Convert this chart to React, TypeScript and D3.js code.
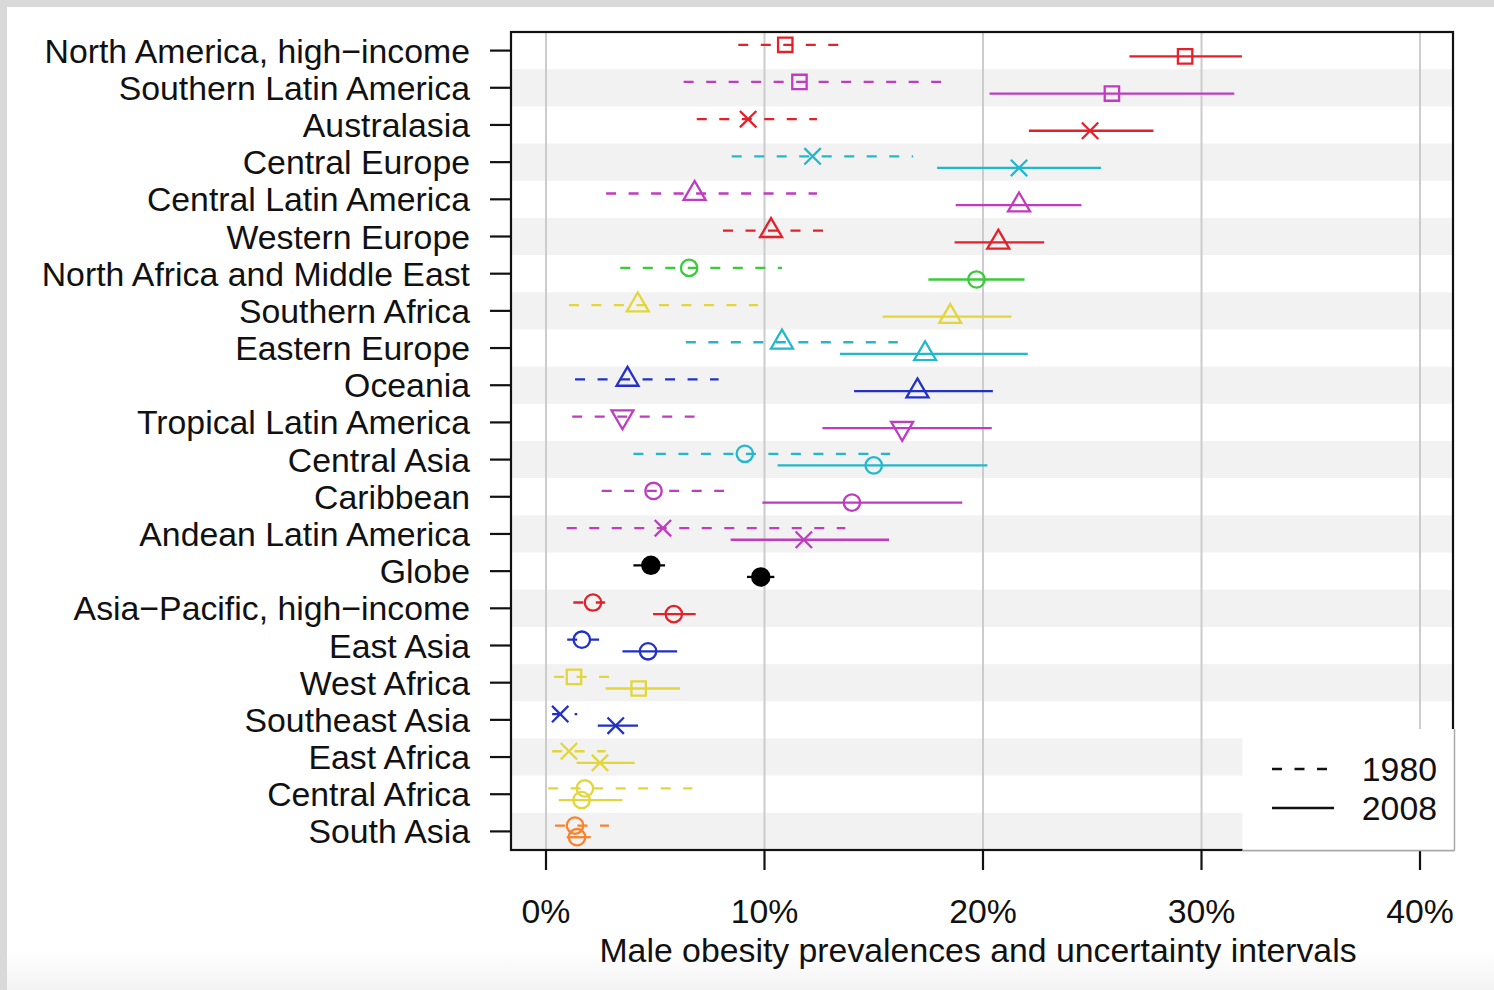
import React from "react";
import * as d3 from "d3";

// Regions, top to bottom
const regions = [
  "North America, high\u2212income",
  "Southern Latin America",
  "Australasia",
  "Central Europe",
  "Central Latin America",
  "Western Europe",
  "North Africa and Middle East",
  "Southern Africa",
  "Eastern Europe",
  "Oceania",
  "Tropical Latin America",
  "Central Asia",
  "Caribbean",
  "Andean Latin America",
  "Globe",
  "Asia\u2212Pacific, high\u2212income",
  "East Asia",
  "West Africa",
  "Southeast Asia",
  "East Africa",
  "Central Africa",
  "South Asia",
];

// 1980 estimates and uncertainty intervals (%)
const est1980 = [10.95, 11.6, 9.25, 12.2, 6.8, 10.3, 6.55, 4.2, 10.8, 3.73, 3.5, 9.1, 4.92, 5.35, 4.8, 2.15, 1.64, 1.28, 0.65, 1.05, 1.78, 1.33];
const lo1980 = [8.8, 6.3, 6.9, 8.5, 2.75, 8.1, 3.4, 1.05, 6.4, 1.33, 1.2, 4.0, 2.55, 0.95, 4.0, 1.25, 0.97, 0.37, 0.28, 0.28, 0.1, 0.41];
const hi1980 = [13.4, 18.1, 12.4, 16.8, 12.4, 12.7, 10.8, 9.7, 16.1, 7.9, 6.8, 15.75, 8.15, 13.7, 5.45, 2.7, 2.43, 2.9, 1.43, 2.73, 6.7, 2.88];

// 2008 estimates and uncertainty intervals (%)
const est2008 = [29.25, 25.9, 24.9, 21.65, 21.65, 20.7, 19.7, 18.5, 17.35, 17.0, 16.3, 15.0, 14.0, 11.8, 9.83, 5.85, 4.67, 4.24, 3.19, 2.47, 1.63, 1.42];
const lo2008 = [26.7, 20.3, 22.1, 17.9, 18.75, 18.7, 17.5, 15.4, 13.45, 14.1, 12.65, 10.6, 9.9, 8.45, 9.2, 4.9, 3.5, 2.73, 2.37, 1.4, 0.58, 0.95];
const hi2008 = [31.85, 31.5, 27.8, 25.4, 24.5, 22.8, 21.9, 21.3, 22.05, 20.45, 20.4, 20.2, 19.05, 15.7, 10.45, 6.85, 6.0, 6.13, 4.21, 4.06, 3.5, 2.05];

// Super-region colour and marker per region
const regionColor = [
  "red", "magenta", "red", "cyan", "magenta", "red", "green", "yellow", "cyan", "blue", "magenta",
  "cyan", "magenta", "magenta", "black", "red", "blue", "yellow", "blue", "yellow", "yellow", "orange",
];
const regionShape = [
  "square", "square", "x", "x", "triangle", "triangle", "circle", "triangle", "triangle", "triangle", "triangleDown",
  "circle", "circle", "x", "dot", "circle", "circle", "square", "x", "x", "circle", "circle",
];

const tickValues = [0, 10, 20, 30, 40];
const legendYears = ["1980", "2008"];

const palette: Record<string, string> = {
  red: "#e4202a",
  magenta: "#bf3bc0",
  cyan: "#22b8cc",
  green: "#3acb3a",
  yellow: "#e2d63a",
  blue: "#2230c6",
  orange: "#f7832e",
  black: "#000000",
};

const W = 1494;
const H = 990;
const plot = { left: 511, right: 1453, top: 32, bottom: 850 };
const FONT = "'Liberation Sans', Arial, Helvetica, sans-serif";
const FS = 33.8;

const x = d3
  .scaleLinear()
  .domain([0, 40])
  .range([546, 1420]);

const y = d3
  .scaleBand<number>()
  .domain(d3.range(regions.length))
  .range([plot.top, plot.bottom])
  .paddingInner(0)
  .paddingOuter(0);

const rowCenter = (i: number) => (y(i) as number) + y.bandwidth() / 2;

function markerPath(shape: string, cx: number, cy: number): string {
  const p = d3.path();
  if (shape === "square") {
    const h = 7.2;
    p.rect(cx - h, cy - h, 2 * h, 2 * h);
  } else if (shape === "circle") {
    p.moveTo(cx + 8.2, cy);
    p.arc(cx, cy, 8.2, 0, Math.PI * 2);
    p.closePath();
  } else if (shape === "dot") {
    p.moveTo(cx + 8.6, cy);
    p.arc(cx, cy, 8.6, 0, Math.PI * 2);
    p.closePath();
  } else if (shape === "triangle") {
    p.moveTo(cx, cy - 12.6);
    p.lineTo(cx + 11, cy + 6.3);
    p.lineTo(cx - 11, cy + 6.3);
    p.closePath();
  } else if (shape === "triangleDown") {
    p.moveTo(cx, cy + 12.6);
    p.lineTo(cx + 11, cy - 6.3);
    p.lineTo(cx - 11, cy - 6.3);
    p.closePath();
  } else if (shape === "x") {
    const h = 8.2;
    p.moveTo(cx - h, cy - h);
    p.lineTo(cx + h, cy + h);
    p.moveTo(cx - h, cy + h);
    p.lineTo(cx + h, cy - h);
  }
  return p.toString();
}

const DASH = "10,12.5";
const OFF1980 = -5.8;
const OFF2008 = 5.8;
const LW = 2.3;

export default function App() {
  const rows = regions.map((name, i) => ({ name, i, cy: rowCenter(i) }));
  const legendX = 1242.5;
  const legendY = 729;

  return (
    <svg
      width={W}
      height={H}
      viewBox={`0 0 ${W} ${H}`}
      style={{ position: "absolute", left: 0, top: 0, display: "block" }}
      fontFamily={FONT}
    >
      <defs>
        <linearGradient id="pageFoot" x1="0" y1="0" x2="0" y2="1">
          <stop offset="0" stopColor="#ffffff" />
          <stop offset="1" stopColor="#f3f3f3" />
        </linearGradient>
      </defs>

      {/* page */}
      <rect x={0} y={0} width={W} height={H} fill="#d9d9d9" />
      <rect x={7} y={7} width={W - 7} height={H - 7} fill="#ffffff" />
      <rect x={7} y={950} width={W - 7} height={40} fill="url(#pageFoot)" />

      {/* alternating row bands */}
      {rows
        .filter((r) => r.i % 2 === 1)
        .map((r) => (
          <rect
            key={`band-${r.i}`}
            x={plot.left}
            y={y(r.i) as number}
            width={plot.right - plot.left}
            height={y.bandwidth()}
            fill="#f2f2f2"
          />
        ))}

      {/* vertical grid */}
      {tickValues.map((t) => (
        <line
          key={`grid-${t}`}
          x1={x(t)}
          x2={x(t)}
          y1={plot.top}
          y2={plot.bottom}
          stroke="#cccccc"
          strokeWidth={2}
        />
      ))}

      {/* intervals and estimates */}
      {rows.map((r) => {
        const col = palette[regionColor[r.i]];
        const shape = regionShape[r.i];
        const y80 = r.cy + OFF1980;
        const y08 = r.cy + OFF2008;
        const filled = shape === "dot";
        return (
          <g key={`row-${r.i}`}>
            <line
              x1={x(lo1980[r.i])}
              x2={x(hi1980[r.i])}
              y1={y80}
              y2={y80}
              stroke={col}
              strokeWidth={LW}
              strokeDasharray={DASH}
            />
            <path
              d={markerPath(shape, x(est1980[r.i]), y80)}
              fill={filled ? col : "none"}
              stroke={col}
              strokeWidth={LW}
            />
            <line
              x1={x(lo2008[r.i])}
              x2={x(hi2008[r.i])}
              y1={y08}
              y2={y08}
              stroke={col}
              strokeWidth={LW}
            />
            <path
              d={markerPath(shape, x(est2008[r.i]), y08)}
              fill={filled ? col : "none"}
              stroke={col}
              strokeWidth={LW}
            />
          </g>
        );
      })}

      {/* plot frame */}
      <rect
        x={plot.left}
        y={plot.top}
        width={plot.right - plot.left}
        height={plot.bottom - plot.top}
        fill="none"
        stroke="#111111"
        strokeWidth={2.2}
      />

      {/* left axis */}
      {rows.map((r) => (
        <g key={`ylab-${r.i}`}>
          <line x1={490} x2={plot.left} y1={r.cy} y2={r.cy} stroke="#111111" strokeWidth={2.2} />
          <text x={470} y={r.cy + 12} textAnchor="end" fontSize={FS} fill="#111111">
            {r.name}
          </text>
        </g>
      ))}

      {/* bottom axis */}
      {tickValues.map((t) => (
        <g key={`xtick-${t}`}>
          <line x1={x(t)} x2={x(t)} y1={plot.bottom} y2={870} stroke="#111111" strokeWidth={2.2} />
          <text x={x(t)} y={923} textAnchor="middle" fontSize={FS} fill="#111111">
            {`${t}%`}
          </text>
        </g>
      ))}
      <text x={978} y={962} textAnchor="middle" fontSize={FS} fill="#111111">
        Male obesity prevalences and uncertainty intervals
      </text>

      {/* legend */}
      <rect x={legendX} y={legendY} width={1455 - legendX} height={851 - legendY} fill="#ffffff" />
      <line x1={1454.5} x2={1454.5} y1={legendY} y2={850.5} stroke="#a8a8a8" strokeWidth={1.5} />
      <line x1={legendX} x2={1455} y1={850.5} y2={850.5} stroke="#a8a8a8" strokeWidth={1.5} />
      {legendYears.map((yr, k) => {
        const ly = 769 + k * 39;
        return (
          <g key={`leg-${yr}`}>
            <line
              x1={1272}
              x2={1334}
              y1={ly}
              y2={ly}
              stroke="#111111"
              strokeWidth={LW}
              strokeDasharray={k === 0 ? DASH : undefined}
            />
            <text x={1437} y={ly + 12} textAnchor="end" fontSize={FS} fill="#111111">
              {yr}
            </text>
          </g>
        );
      })}
    </svg>
  );
}
